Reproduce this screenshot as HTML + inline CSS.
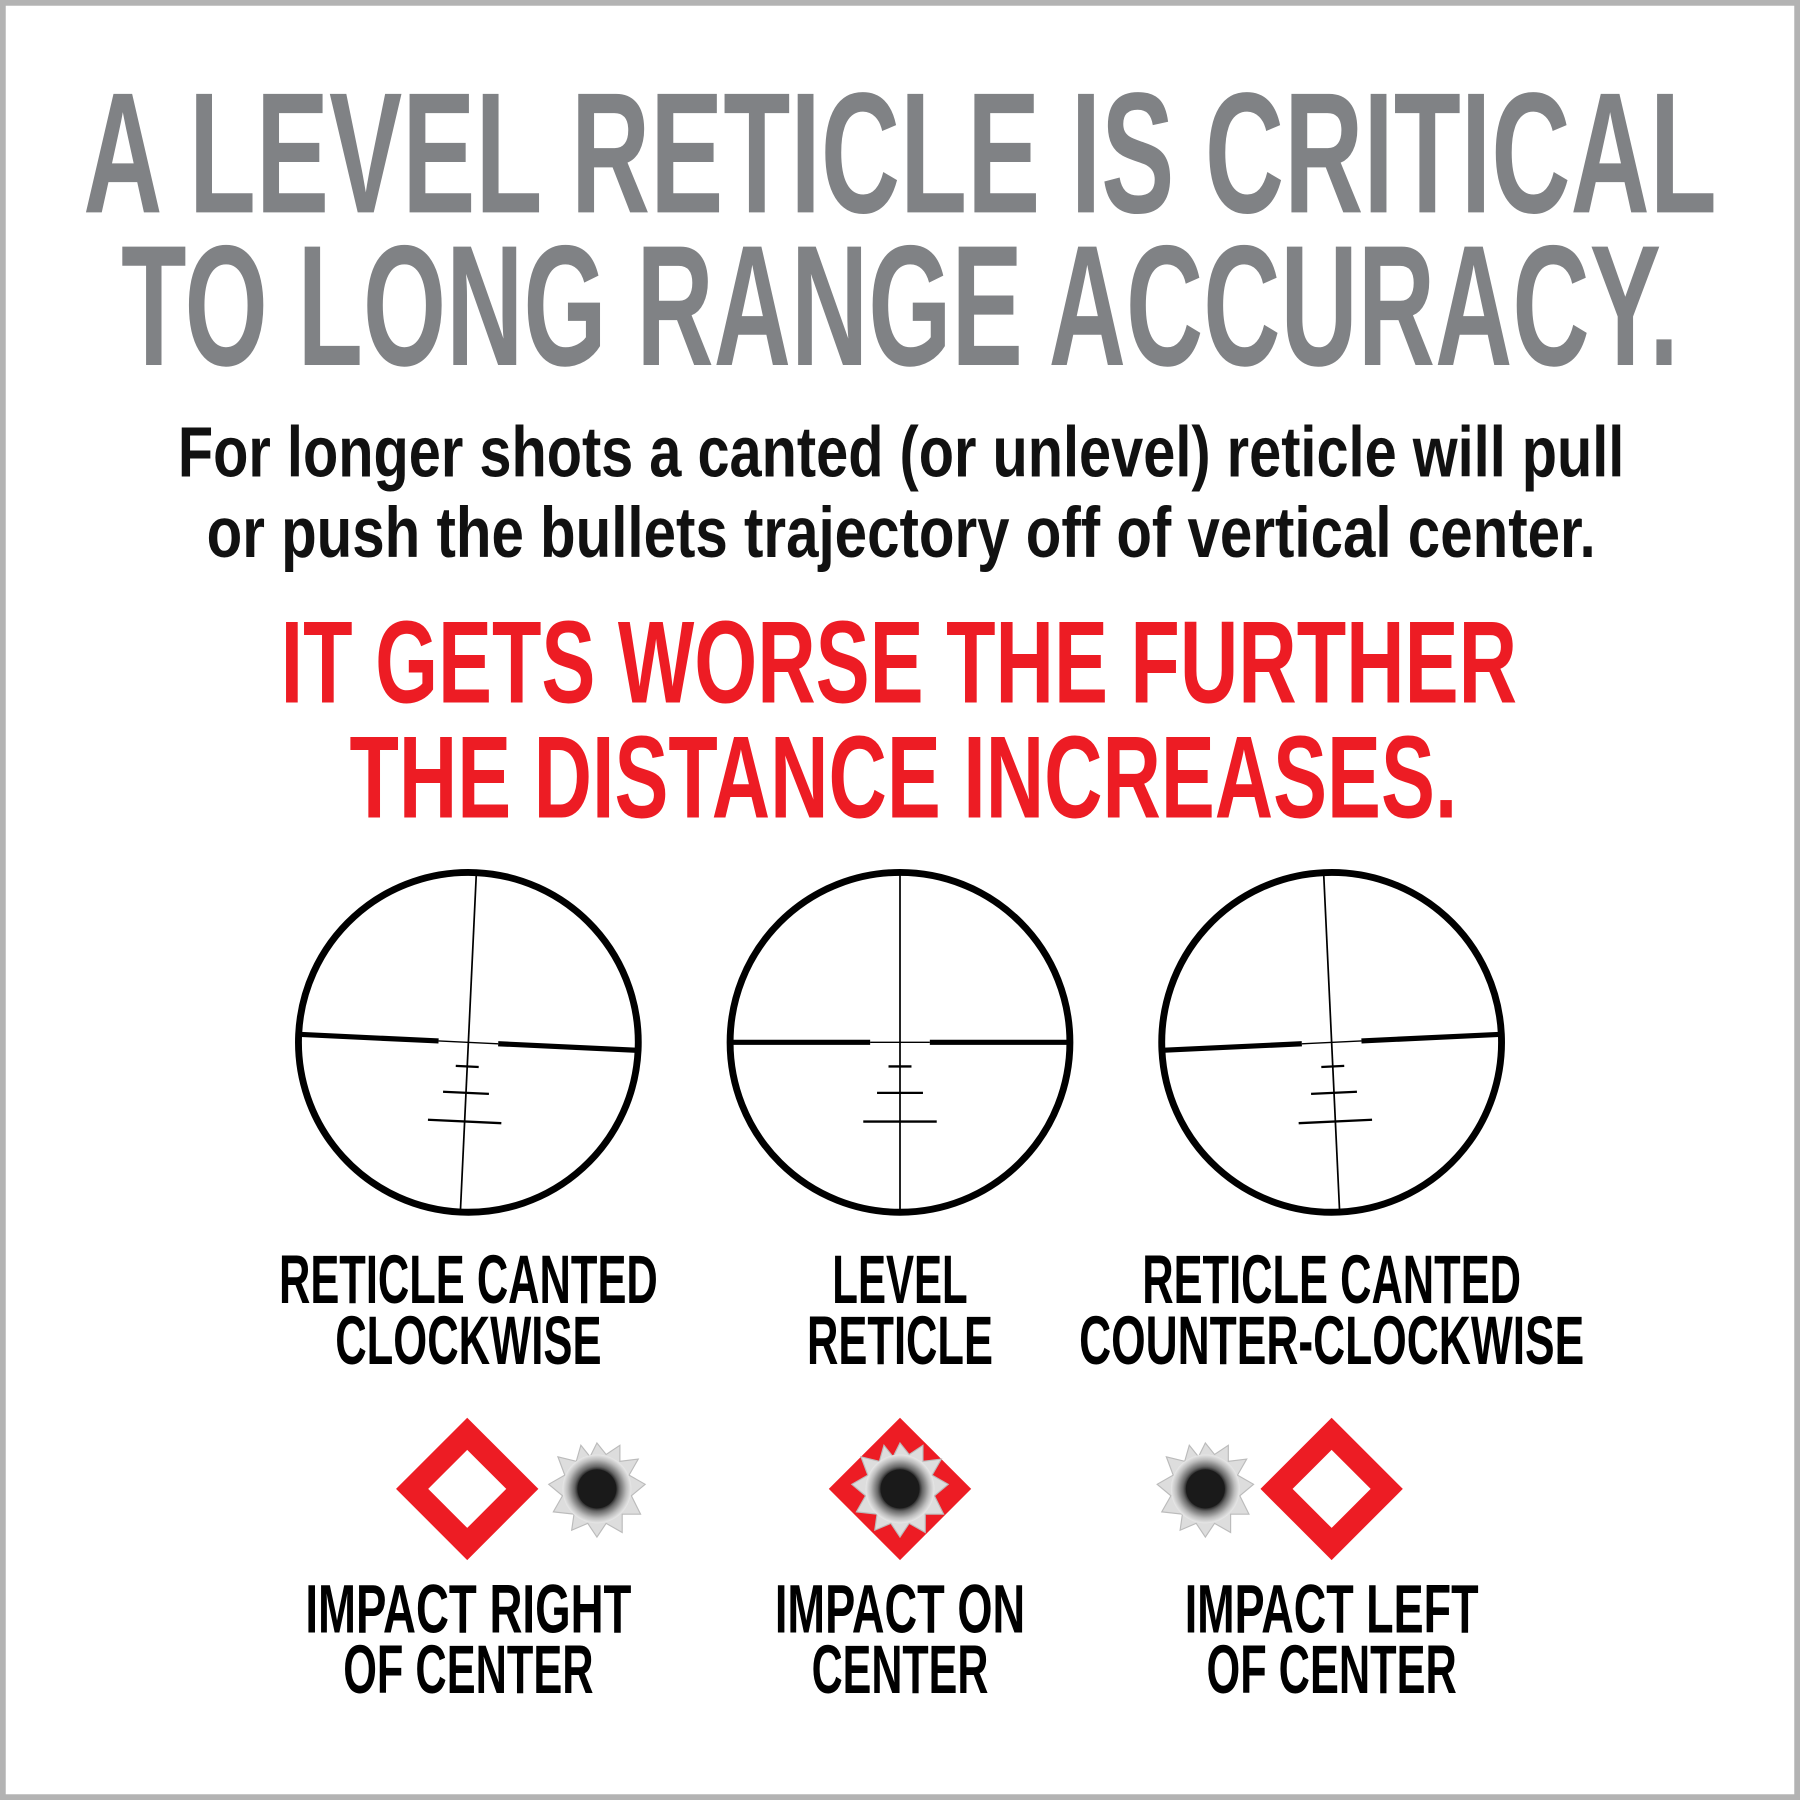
<!DOCTYPE html>
<html><head><style>
html,body{margin:0;padding:0;background:#fff;}
svg{display:block;}
text{font-family:"Liberation Sans Narrow","Liberation Sans",sans-serif;font-weight:bold;}
</style></head><body>
<svg width="1800" height="1800" viewBox="0 0 1568 1568" xmlns="http://www.w3.org/2000/svg">
<defs>
<g id="ret">
  <circle cx="0" cy="0" r="148" fill="none" stroke="#000" stroke-width="6"/>
  <line x1="0" y1="-148" x2="0" y2="148" stroke="#000" stroke-width="1.5"/>
  <line x1="-148" y1="0" x2="-26" y2="0" stroke="#000" stroke-width="4.5"/>
  <line x1="26" y1="0" x2="148" y2="0" stroke="#000" stroke-width="4.5"/>
  <line x1="-26" y1="0" x2="26" y2="0" stroke="#000" stroke-width="1.2"/>
  <line x1="-10" y1="21" x2="10" y2="21" stroke="#000" stroke-width="2"/>
  <line x1="-20" y1="44" x2="20" y2="44" stroke="#000" stroke-width="2"/>
  <line x1="-32" y1="69" x2="32" y2="69" stroke="#000" stroke-width="2"/>
</g>
<radialGradient id="hg" cx="0.5" cy="0.5" r="0.5">
  <stop offset="0" stop-color="#111"/>
  <stop offset="0.55" stop-color="#222"/>
  <stop offset="0.65" stop-color="#666"/>
  <stop offset="0.85" stop-color="#bbb"/>
  <stop offset="1" stop-color="#e8e8e8"/>
</radialGradient>
<g id="hole">
  <polygon points="0,-40 8,-30 20,-38 20,-24 36,-26 28,-12 42,-4 30,6 38,22 22,22 22,38 8,30 0,42 -8,30 -22,36 -20,22 -38,20 -30,6 -42,-4 -28,-12 -34,-28 -18,-24 -14,-38 -6,-28" fill="#ddd" stroke="#bbb" stroke-width="1"/>
  <circle r="30" fill="url(#hg)"/>
  <circle r="17" fill="#1a1a1a"/>
</g>
</defs>
<rect x="2.5" y="2.5" width="1563" height="1563" fill="#fff" stroke="#b3b3b3" stroke-width="5"/>
<g fill="#808285" text-anchor="middle">
<text x="784" y="185" font-size="150" textLength="1423" lengthAdjust="spacingAndGlyphs">A LEVEL RETICLE IS CRITICAL</text>
<text x="784" y="318" font-size="150" textLength="1357" lengthAdjust="spacingAndGlyphs">TO LONG RANGE ACCURACY.</text>
</g>
<g fill="#111" text-anchor="middle">
<text x="785" y="415" font-size="62" textLength="1260" lengthAdjust="spacingAndGlyphs">For longer shots a canted (or unlevel) reticle will pull</text>
<text x="785" y="485" font-size="62" textLength="1210" lengthAdjust="spacingAndGlyphs">or push the bullets trajectory off of vertical center.</text>
</g>
<g fill="#ed1c24" text-anchor="middle">
<text x="783" y="612" font-size="102" textLength="1077" lengthAdjust="spacingAndGlyphs">IT GETS WORSE THE FURTHER</text>
<text x="787" y="712" font-size="102" textLength="965" lengthAdjust="spacingAndGlyphs">THE DISTANCE INCREASES.</text>
</g>
<use href="#ret" transform="translate(408,908) rotate(2.7)"/>
<use href="#ret" transform="translate(784,908)"/>
<use href="#ret" transform="translate(1160,908) rotate(-2.7)"/>
<g fill="#000" text-anchor="middle" font-size="60">
<text x="408" y="1135" textLength="330" lengthAdjust="spacingAndGlyphs">RETICLE CANTED</text>
<text x="408" y="1188" textLength="232" lengthAdjust="spacingAndGlyphs">CLOCKWISE</text>
<text x="784" y="1135" textLength="118" lengthAdjust="spacingAndGlyphs">LEVEL</text>
<text x="784" y="1188" textLength="162" lengthAdjust="spacingAndGlyphs">RETICLE</text>
<text x="1160" y="1135" textLength="330" lengthAdjust="spacingAndGlyphs">RETICLE CANTED</text>
<text x="1160" y="1188" textLength="440" lengthAdjust="spacingAndGlyphs">COUNTER-CLOCKWISE</text>
<text x="408" y="1422" textLength="284" lengthAdjust="spacingAndGlyphs">IMPACT RIGHT</text>
<text x="408" y="1475" textLength="218" lengthAdjust="spacingAndGlyphs">OF CENTER</text>
<text x="784" y="1422" textLength="218" lengthAdjust="spacingAndGlyphs">IMPACT ON</text>
<text x="784" y="1475" textLength="154" lengthAdjust="spacingAndGlyphs">CENTER</text>
<text x="1160" y="1422" textLength="256" lengthAdjust="spacingAndGlyphs">IMPACT LEFT</text>
<text x="1160" y="1475" textLength="218" lengthAdjust="spacingAndGlyphs">OF CENTER</text>
</g>
<g fill="#ed1c24">
<polygon points="407,1235 469,1297 407,1359 345,1297"/>
<polygon points="407,1263 441,1297 407,1331 373,1297" fill="#fff"/>
<polygon points="784,1235 846,1297 784,1359 722,1297"/>
<polygon points="1160,1235 1222,1297 1160,1359 1098,1297"/>
<polygon points="1160,1263 1194,1297 1160,1331 1126,1297" fill="#fff"/>
</g>
<use href="#hole" transform="translate(520,1297)"/>
<use href="#hole" transform="translate(784,1297)"/>
<use href="#hole" transform="translate(1050,1297)"/>
</svg>
</body></html>
